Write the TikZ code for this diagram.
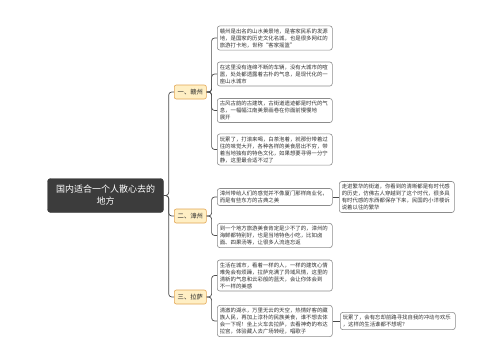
\documentclass[tikz,border=0pt]{standalone}
\usepackage{fontspec}
\newfontfamily\cjk{Noto Sans CJK SC}
\definecolor{rootfill}{HTML}{3C3C3C}
\definecolor{brfill}{HTML}{FFEFC4}
\definecolor{brdraw}{HTML}{E2A654}
\definecolor{leafdraw}{HTML}{8C8C8C}
\definecolor{linec}{HTML}{4A4A4A}
\tikzset{
  rootbox/.style={draw=rootfill, fill=rootfill, rounded corners=3pt, text=white,
    minimum width=116pt, minimum height=34pt, align=center, inner sep=2pt,
    font=\cjk\fontsize{9}{12}\selectfont},
  branchbox/.style={draw=brdraw, fill=brfill, rounded corners=2pt, line width=0.6pt,
    minimum width=32pt, minimum height=14pt, inner sep=1pt, anchor=west,
    font=\cjk\fontsize{6.3}{7}\selectfont, text=black!85},
  leafbox/.style={draw=leafdraw, fill=white, rounded corners=2.5pt, line width=0.6pt,
    text width=110pt, align=left, inner sep=2.5pt, anchor=west,
    font=\cjk\fontsize{5.4}{7}\selectfont, text=black!80},
  conn/.style={draw=linec, line width=0.7pt, rounded corners=3pt},
}
\begin{document}
\begin{tikzpicture}[x=1pt,y=-1pt]
\useasboundingbox (0,0) rectangle (500,360);
\fill[white] (0,0) rectangle (500,360);

\node[rootbox] (root) at (105.5,195.5) {国内适合一个人散心去的\\地方};

\node[branchbox] (b1) at (174,92) {一、赣州};
\node[branchbox] (b2) at (174,216) {二、漳州};
\node[branchbox] (b3) at (174,297) {三、拉萨};

\node[leafbox] (l1) at (217,38) {赣州是出名的山水美景地，是客家民系的发源\\地，是国家的历史文化名城，也是很多网红的\\旅游打卡地，世称“客家摇篮”};
\node[leafbox] (l2) at (217,74) {在这里没有连绵不断的车辆，没有大城市的喧\\嚣，处处都透露着古朴的气息，是现代化的一\\座山水城市};
\node[leafbox] (l3) at (217,110.5) {古风古韵的古建筑，古街道遗迹都是时代的气\\息，一幅幅江南美景画卷在你面前慢慢地\\展开};
\node[leafbox] (l4) at (217,149.5) {玩累了，打滚来喝，白茶泡着，就那份带着过\\往的味觉大开，各种各样的美食层出不穷，带\\着当地独有的特色文化，如果想要寻得一分宁\\静，这里最合适不过了};

\node[leafbox] (l5) at (217,197) {漳州带给人们的感觉并不像厦门那样商业化，\\而是有些东方的古典之美};
\node[leafbox] (l6) at (339,197) {走进繁华的街道，你看到的清晰都是有时代感\\的历史，仿佛古人穿越到了这个时代，很多具\\有时代感的东西都保存下来，民国的小洋楼诉\\说着以往的繁华};
\node[leafbox] (l7) at (217,235.5) {到一个地方旅游美食肯定是少不了的，漳州的\\海鲜都特别好，也是当地特色小吃，比如卤\\面、四果汤等，让很多人流连忘返};

\node[leafbox] (l8) at (217,275.5) {生活在城市，看着一样的人，一样的建筑心情\\难免会有烦躁，拉萨充满了异域风情，这里的\\清新的气息和云彩般的蓝天，会让你体会到\\不一样的美感};
\node[leafbox] (l9) at (217,321) {清澈的湖水，万里无云的天空，热情好客的藏\\族人民，再加上淳朴的民族美食，谁不想去体\\会一下呢！坐上火车去拉萨，去看神奇的布达\\拉宫，体验藏人去广场转经，唱歌子};
\node[leafbox] (l10) at (340,321) {玩累了，会有忘却前路寻找自我的冲动与欢乐\\，这样的生活谁都不想呢？};

\foreach \b in {b1,b2,b3}
  \draw[conn] (root.east) -- ++(5,0) |- (\b.west);

\foreach \l in {l1,l2,l3,l4}
  \draw[conn] (b1.east) -- ++(5,0) |- (\l.west);
\foreach \l in {l5,l7}
  \draw[conn] (b2.east) -- ++(5,0) |- (\l.west);
\foreach \l in {l8,l9}
  \draw[conn] (b3.east) -- ++(5,0) |- (\l.west);

\draw[conn] (l5.east) -- (l6.west);
\draw[conn] (l9.east) -- (l10.west);
\end{tikzpicture}
\end{document}
